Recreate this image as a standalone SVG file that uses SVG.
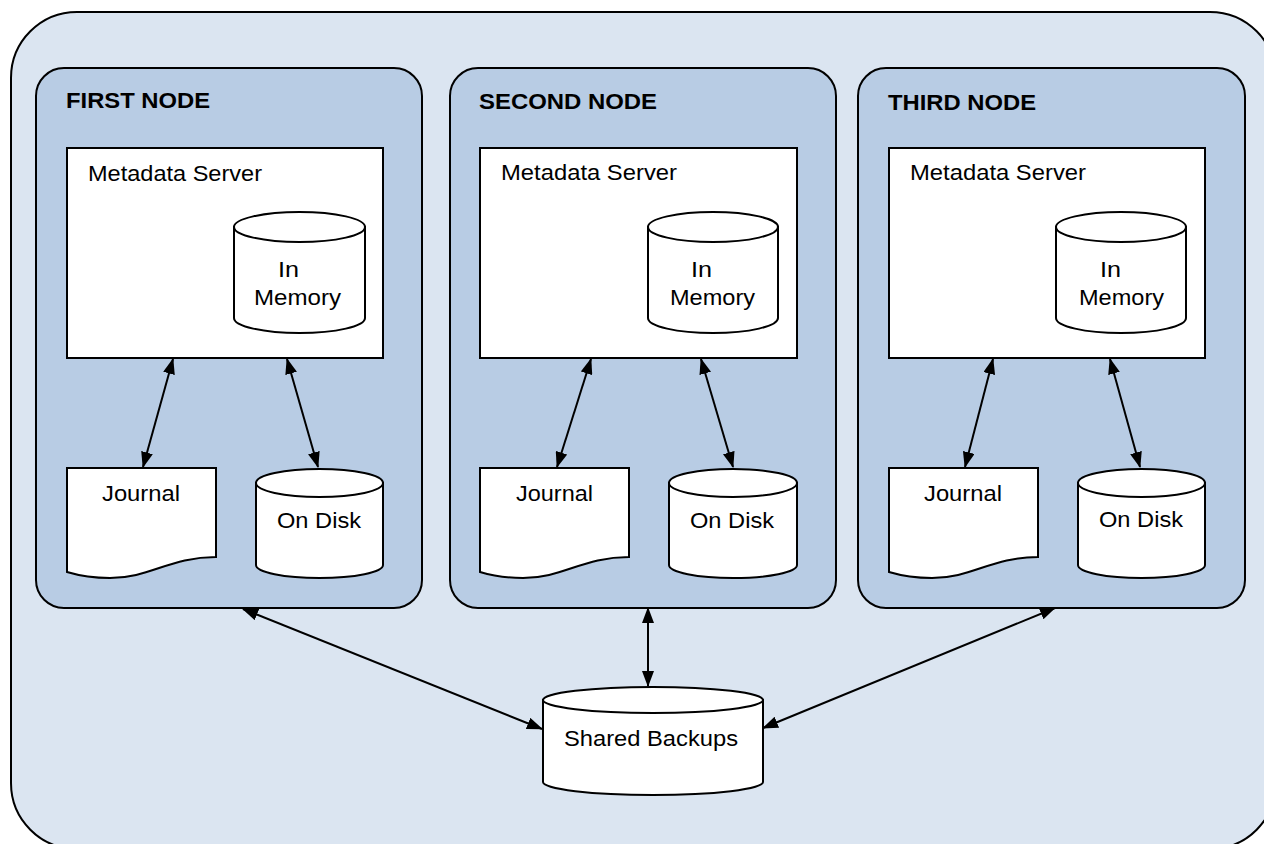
<svg xmlns="http://www.w3.org/2000/svg" width="1264" height="844" viewBox="0 0 1264 844">
  <style>
    .outer { fill: #dbe5f1; stroke: #000; stroke-width: 2; }
    .frame { fill: #b8cce4; stroke: #000; stroke-width: 2; }
    .shape { fill: #fff; stroke: #000; stroke-width: 2; }
    .title { font-family: "Liberation Sans", Arial, sans-serif; font-size: 22px; font-weight: bold; fill: #000; }
    .label { font-family: "Liberation Sans", Arial, sans-serif; font-size: 22.5px; fill: #000; }
    .link { fill: none; stroke: #000; stroke-width: 2; marker-start: url(#arrow); marker-end: url(#arrow); }
  </style>
  <defs>
    <marker id="arrow" viewBox="0 0 16 12" refX="15" refY="6" markerWidth="16" markerHeight="12" markerUnits="userSpaceOnUse" orient="auto-start-reverse">
      <path d="M0,0 L16,6 L0,12 z" fill="#000"/>
    </marker>
  </defs>

  <!-- cluster background -->
  <rect id="cluster" class="outer" x="11" y="12" width="1265" height="837" rx="66" ry="66"/>

  <!-- first node -->
  <g id="node-first">
    <rect class="frame" x="36" y="68" width="386" height="540" rx="28" ry="28"/>
    <text class="title" x="66" y="108" textLength="144" lengthAdjust="spacingAndGlyphs">FIRST NODE</text>
    <g id="first-metadata-server">
      <rect class="shape" x="67" y="148" width="316" height="210"/>
      <text class="label" x="88" y="181" textLength="174" lengthAdjust="spacingAndGlyphs">Metadata Server</text>
    </g>
    <g id="first-in-memory">
      <path class="shape" d="M234,227 V318 A65.5,15 0 0 0 365,318 V227 Z"/>
      <ellipse class="shape" cx="299.5" cy="227" rx="65.5" ry="15"/>
      <text class="label" x="278" y="277" textLength="21" lengthAdjust="spacingAndGlyphs">In</text>
      <text class="label" x="254" y="305" textLength="87" lengthAdjust="spacingAndGlyphs">Memory</text>
    </g>
    <g id="first-journal">
      <path class="shape" d="M67,468 H216 V557 C170,557 150,578 110,578 C90,578 77,575 67,572 Z"/>
      <text class="label" x="102" y="501" textLength="78" lengthAdjust="spacingAndGlyphs">Journal</text>
    </g>
    <g id="first-on-disk">
      <path class="shape" d="M256,483 V565 A63.5,13 0 0 0 383,565 V483 Z"/>
      <ellipse class="shape" cx="319.5" cy="483" rx="63.5" ry="14"/>
      <text class="label" x="277" y="528" textLength="84" lengthAdjust="spacingAndGlyphs">On Disk</text>
    </g>
  </g>

  <!-- second node -->
  <g id="node-second" transform="translate(413,0)">
    <rect class="frame" x="37" y="68" width="386" height="540" rx="28" ry="28"/>
    <text class="title" x="66" y="109" textLength="178" lengthAdjust="spacingAndGlyphs">SECOND NODE</text>
    <g id="second-metadata-server">
      <rect class="shape" x="67" y="148" width="317" height="210"/>
      <text class="label" x="88" y="180" textLength="176" lengthAdjust="spacingAndGlyphs">Metadata Server</text>
    </g>
    <g id="second-in-memory">
      <path class="shape" d="M235,227 V318 A65,15 0 0 0 365,318 V227 Z"/>
      <ellipse class="shape" cx="300" cy="227" rx="65" ry="15"/>
      <text class="label" x="278" y="277" textLength="21" lengthAdjust="spacingAndGlyphs">In</text>
      <text class="label" x="257" y="305" textLength="85" lengthAdjust="spacingAndGlyphs">Memory</text>
    </g>
    <g id="second-journal">
      <path class="shape" d="M67,468 H216 V557 C170,557 150,578 110,578 C90,578 77,575 67,572 Z"/>
      <text class="label" x="103" y="501" textLength="77" lengthAdjust="spacingAndGlyphs">Journal</text>
    </g>
    <g id="second-on-disk">
      <path class="shape" d="M256,483 V565 A64,13 0 0 0 384,565 V483 Z"/>
      <ellipse class="shape" cx="320" cy="483" rx="64" ry="14"/>
      <text class="label" x="277" y="528" textLength="84" lengthAdjust="spacingAndGlyphs">On Disk</text>
    </g>
  </g>

  <!-- third node -->
  <g id="node-third" transform="translate(822,0)">
    <rect class="frame" x="36" y="68" width="387" height="540" rx="28" ry="28"/>
    <text class="title" x="66" y="110" textLength="148" lengthAdjust="spacingAndGlyphs">THIRD NODE</text>
    <g id="third-metadata-server">
      <rect class="shape" x="67" y="148" width="316" height="210"/>
      <text class="label" x="88" y="180" textLength="176" lengthAdjust="spacingAndGlyphs">Metadata Server</text>
    </g>
    <g id="third-in-memory">
      <path class="shape" d="M234,227 V318 A65,15 0 0 0 364,318 V227 Z"/>
      <ellipse class="shape" cx="299" cy="227" rx="65" ry="15"/>
      <text class="label" x="278" y="277" textLength="21" lengthAdjust="spacingAndGlyphs">In</text>
      <text class="label" x="257" y="305" textLength="85" lengthAdjust="spacingAndGlyphs">Memory</text>
    </g>
    <g id="third-journal">
      <path class="shape" d="M67,468 H216 V557 C170,557 150,578 110,578 C90,578 77,575 67,572 Z"/>
      <text class="label" x="102" y="501" textLength="78" lengthAdjust="spacingAndGlyphs">Journal</text>
    </g>
    <g id="third-on-disk">
      <path class="shape" d="M256,483 V565 A63.5,13 0 0 0 383,565 V483 Z"/>
      <ellipse class="shape" cx="319.5" cy="483" rx="63.5" ry="14"/>
      <text class="label" x="277" y="527" textLength="84" lengthAdjust="spacingAndGlyphs">On Disk</text>
    </g>
  </g>

  <!-- shared backup store -->
  <g id="shared-backups">
    <path class="shape" d="M543,700 V782 A110,13 0 0 0 763,782 V700 Z"/>
    <ellipse class="shape" cx="653" cy="700" rx="110" ry="13"/>
    <text class="label" x="564" y="746" textLength="174" lengthAdjust="spacingAndGlyphs">Shared Backups</text>
  </g>

  <!-- connectors -->
  <g id="connectors">
    <line class="link" x1="173" y1="359" x2="143" y2="467"/>
    <line class="link" x1="287" y1="359" x2="318" y2="467"/>
    <line class="link" x1="591" y1="359" x2="557" y2="467"/>
    <line class="link" x1="701" y1="359" x2="733" y2="467"/>
    <line class="link" x1="993" y1="359" x2="965" y2="467"/>
    <line class="link" x1="1110" y1="359" x2="1140" y2="467"/>
    <line class="link" x1="243" y1="609" x2="542" y2="729"/>
    <line class="link" x1="648" y1="608" x2="648" y2="686"/>
    <line class="link" x1="1055" y1="608" x2="763" y2="728"/>
  </g>
</svg>
